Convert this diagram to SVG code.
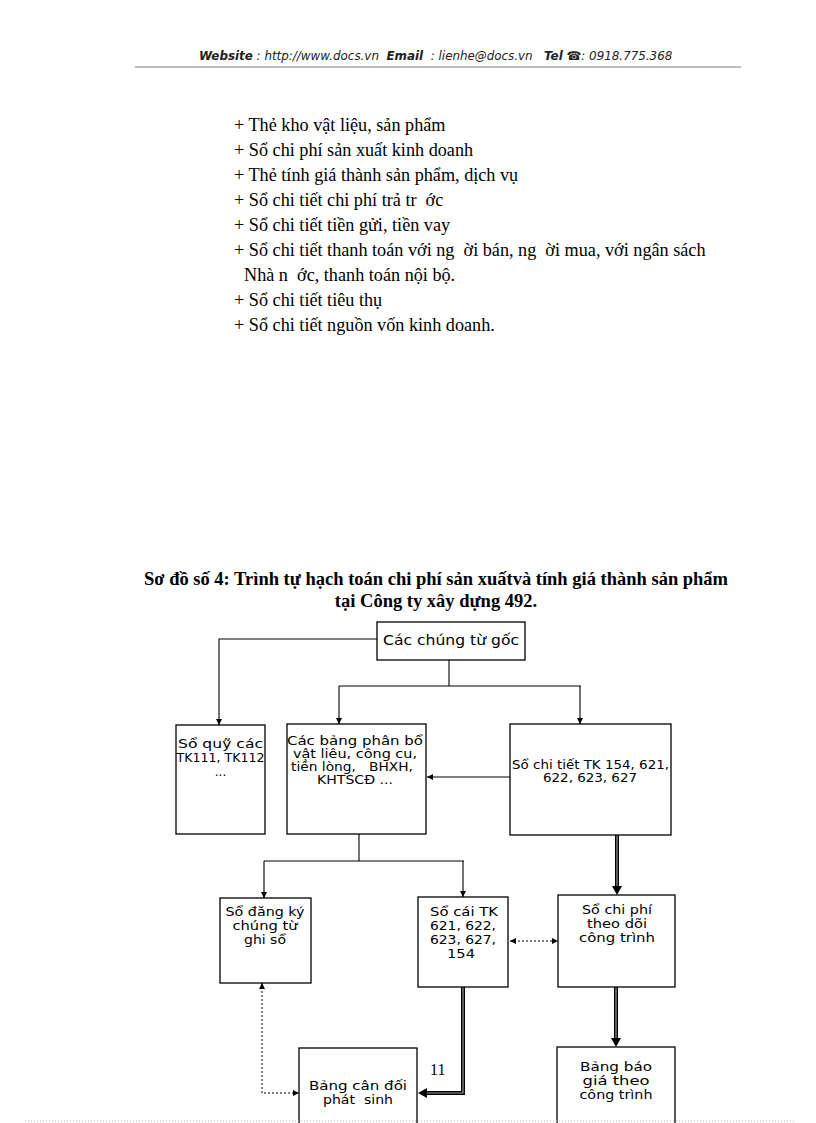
<svg xmlns="http://www.w3.org/2000/svg" width="816" height="1123" viewBox="0 0 816 1123" xml:space="preserve">
<style>
text{white-space:pre}
.hdr{font-family:"DejaVu Sans",sans-serif;font-size:11.9px;font-style:italic;fill:#222}
.hb{font-weight:bold}
.body{font-family:"Liberation Serif",serif;font-size:18.2px;fill:#000}
.title{font-family:"Liberation Serif",serif;font-size:18.5px;font-weight:bold;fill:#000}
.box{fill:#fff;stroke:#000;stroke-width:1.3}
.lbl{font-family:"DejaVu Sans",sans-serif;font-size:12px;fill:#000;text-anchor:middle}
.sm{font-size:11.4px}
.ln{fill:none;stroke:#000;stroke-width:1.1}
.dot{fill:none;stroke:#000;stroke-width:1;stroke-dasharray:2 2}
.dbl{fill:none;stroke:#000;stroke-width:4}
.dblc{fill:none;stroke:#999;stroke-width:1.2}
</style>
<defs>
<marker id="ah" viewBox="0 0 10 10" refX="10" refY="5" markerWidth="6" markerHeight="6" orient="auto" markerUnits="userSpaceOnUse"><path d="M0,0 L10,5 L0,10 z" fill="#000"/></marker>
<marker id="ahs" viewBox="0 0 10 10" refX="0" refY="5" markerWidth="6" markerHeight="6" orient="auto" markerUnits="userSpaceOnUse"><path d="M10,0 L0,5 L10,10 z" fill="#000"/></marker>
</defs>
<rect width="816" height="1123" fill="#fff"/>

<g id="header">
<text class="hdr" x="199" y="60"><tspan class="hb">Website</tspan> : http://www.docs.vn  <tspan class="hb">Email</tspan>  : lienhe@docs.vn   <tspan class="hb">Tel</tspan> <tspan class="hb">☎</tspan>: 0918.775.368</text>
<line x1="135" y1="67" x2="741" y2="67" stroke="#777" stroke-width="1"/>
</g>

<g id="list">
<text class="body" x="234" y="131">+ Thẻ kho vật liệu, sản phẩm</text>
<text class="body" x="234" y="156">+ Sổ chi phí sản xuất kinh doanh</text>
<text class="body" x="234" y="181">+ Thẻ tính giá thành sản phẩm, dịch vụ</text>
<text class="body" x="234" y="206">+ Sổ chi tiết chi phí trả tr  ớc</text>
<text class="body" x="234" y="231">+ Sổ chi tiết tiền gửi, tiền vay</text>
<text class="body" x="234" y="256">+ Sổ chi tiết thanh toán với ng  ời bán, ng  ời mua, với ngân sách</text>
<text class="body" x="244" y="281">Nhà n  ớc, thanh toán nội bộ.</text>
<text class="body" x="234" y="306">+ Sổ chi tiết tiêu thụ</text>
<text class="body" x="234" y="331">+ Sổ chi tiết nguồn vốn kinh doanh.</text>
</g>

<g id="title">
<text class="title" x="436" y="585" text-anchor="middle">Sơ đồ số 4: Trình tự hạch toán chi phí sản xuấtvà tính giá thành sản phẩm</text>
<text class="title" x="436" y="607" text-anchor="middle">tại Công ty xây dựng 492.</text>
</g>

<g id="connectors">
<polyline class="ln" points="377,639 219,639 219,725" marker-end="url(#ah)"/>
<line class="ln" x1="449" y1="660" x2="449" y2="686"/>
<line class="ln" x1="339" y1="686" x2="581" y2="686"/>
<line class="ln" x1="339" y1="686" x2="339" y2="724" marker-end="url(#ah)"/>
<line class="ln" x1="580" y1="686" x2="580" y2="724" marker-end="url(#ah)"/>
<line class="ln" x1="510" y1="777" x2="427" y2="777" marker-end="url(#ah)"/>
<line class="ln" x1="359" y1="834" x2="359" y2="861"/>
<line class="ln" x1="264" y1="861" x2="464" y2="861"/>
<line class="ln" x1="264" y1="861" x2="264" y2="898" marker-end="url(#ah)"/>
<line class="ln" x1="463" y1="861" x2="463" y2="897" marker-end="url(#ah)"/>
<line class="dot" x1="510" y1="941" x2="558" y2="941" marker-start="url(#ahs)" marker-end="url(#ah)"/>
<polyline class="dot" points="262,983 262,1093 299,1093" marker-start="url(#ahs)" marker-end="url(#ah)"/>
<g id="dbl1">
<line class="dbl" x1="617" y1="835" x2="617" y2="887"/>
<line class="dblc" x1="617" y1="835" x2="617" y2="887"/>
<path d="M612,886 L622,886 L617,895 z" fill="#000"/>
</g>
<g id="dbl2">
<polyline class="dbl" points="463,987 463,1093 426,1093"/>
<polyline class="dblc" points="463,987 463,1093 426,1093"/>
<path d="M427,1088 L427,1098 L418,1093 z" fill="#000"/>
</g>
<g id="dbl3">
<line class="dbl" x1="616" y1="987" x2="616" y2="1039"/>
<line class="dblc" x1="616" y1="987" x2="616" y2="1039"/>
<path d="M611,1038 L621,1038 L616,1047 z" fill="#000"/>
</g>
</g>

<g id="n-goc">
<rect class="box" x="377" y="622" width="148" height="38"/>
<text class="lbl" x="451" y="645" style="font-size:14px" textLength="136" lengthAdjust="spacingAndGlyphs">Các chúng từ gốc</text>
</g>
<g id="n-soquy">
<rect class="box" x="176" y="725" width="89" height="109"/>
<text class="lbl" x="220.5" y="748" textLength="85" lengthAdjust="spacingAndGlyphs">Sổ quỹ các</text>
<text class="lbl" x="220.5" y="762" textLength="88" lengthAdjust="spacingAndGlyphs">TK111, TK112</text>
<text class="lbl" x="220.5" y="776">...</text>
</g>
<g id="n-bangphanbo">
<rect class="box" x="287" y="724" width="139" height="110"/>
<text class="lbl sm" x="355" y="745" textLength="136" lengthAdjust="spacingAndGlyphs">Các bảng phân bổ</text>
<text class="lbl sm" x="355" y="758" textLength="124" lengthAdjust="spacingAndGlyphs">vật liêu, công cu,</text>
<text class="lbl sm" x="352" y="771" textLength="122" lengthAdjust="spacingAndGlyphs">tiền lòng,   BHXH,</text>
<text class="lbl sm" x="355" y="784" textLength="76" lengthAdjust="spacingAndGlyphs">KHTSCĐ ...</text>
</g>
<g id="n-sochitiet">
<rect class="box" x="510" y="724" width="161" height="111"/>
<text class="lbl sm" x="590.5" y="769" textLength="157" lengthAdjust="spacingAndGlyphs">Sổ chi tiết TK 154, 621,</text>
<text class="lbl sm" x="590" y="782" textLength="94" lengthAdjust="spacingAndGlyphs">622, 623, 627</text>
</g>
<g id="n-sodangky">
<rect class="box" x="220" y="898" width="91" height="85"/>
<text class="lbl" x="265" y="916" textLength="79" lengthAdjust="spacingAndGlyphs">Sổ đăng ký</text>
<text class="lbl" x="265" y="930" textLength="65" lengthAdjust="spacingAndGlyphs">chúng từ</text>
<text class="lbl" x="265" y="944" textLength="42" lengthAdjust="spacingAndGlyphs">ghi sổ</text>
</g>
<g id="n-socai">
<rect class="box" x="418" y="897" width="90" height="90"/>
<text class="lbl" x="464" y="916" textLength="68" lengthAdjust="spacingAndGlyphs">Sổ cái TK</text>
<text class="lbl" x="463" y="930" textLength="66" lengthAdjust="spacingAndGlyphs">621, 622,</text>
<text class="lbl" x="463" y="944" textLength="66" lengthAdjust="spacingAndGlyphs">623, 627,</text>
<text class="lbl" x="461" y="958" textLength="28" lengthAdjust="spacingAndGlyphs">154</text>
</g>
<g id="n-sochiphi">
<rect class="box" x="558" y="895" width="117" height="92"/>
<text class="lbl" x="617" y="914" textLength="70" lengthAdjust="spacingAndGlyphs">Sổ chi phí</text>
<text class="lbl" x="617" y="928" textLength="60" lengthAdjust="spacingAndGlyphs">theo dõi</text>
<text class="lbl" x="617" y="942" textLength="76" lengthAdjust="spacingAndGlyphs">công trình</text>
</g>
<g id="n-bangcandoi">
<rect class="box" x="299" y="1048" width="118" height="90"/>
<text class="lbl" x="358" y="1090" textLength="98" lengthAdjust="spacingAndGlyphs">Bảng cân đối</text>
<text class="lbl" x="358" y="1104" textLength="70" lengthAdjust="spacingAndGlyphs">phát  sinh</text>
</g>
<g id="n-bangbaogia">
<rect class="box" x="557" y="1047" width="118" height="90"/>
<text class="lbl" x="616" y="1071" textLength="72" lengthAdjust="spacingAndGlyphs">Bảng báo</text>
<text class="lbl" x="616" y="1085" textLength="67" lengthAdjust="spacingAndGlyphs">giá theo</text>
<text class="lbl" x="616" y="1099" textLength="73" lengthAdjust="spacingAndGlyphs">công trình</text>
</g>
<text x="430" y="1075" font-family="Liberation Serif, serif" font-size="16">11</text>
<line x1="25" y1="1121" x2="795" y2="1121" stroke="#bbb" stroke-width="1" stroke-dasharray="1 2"/>
</svg>
